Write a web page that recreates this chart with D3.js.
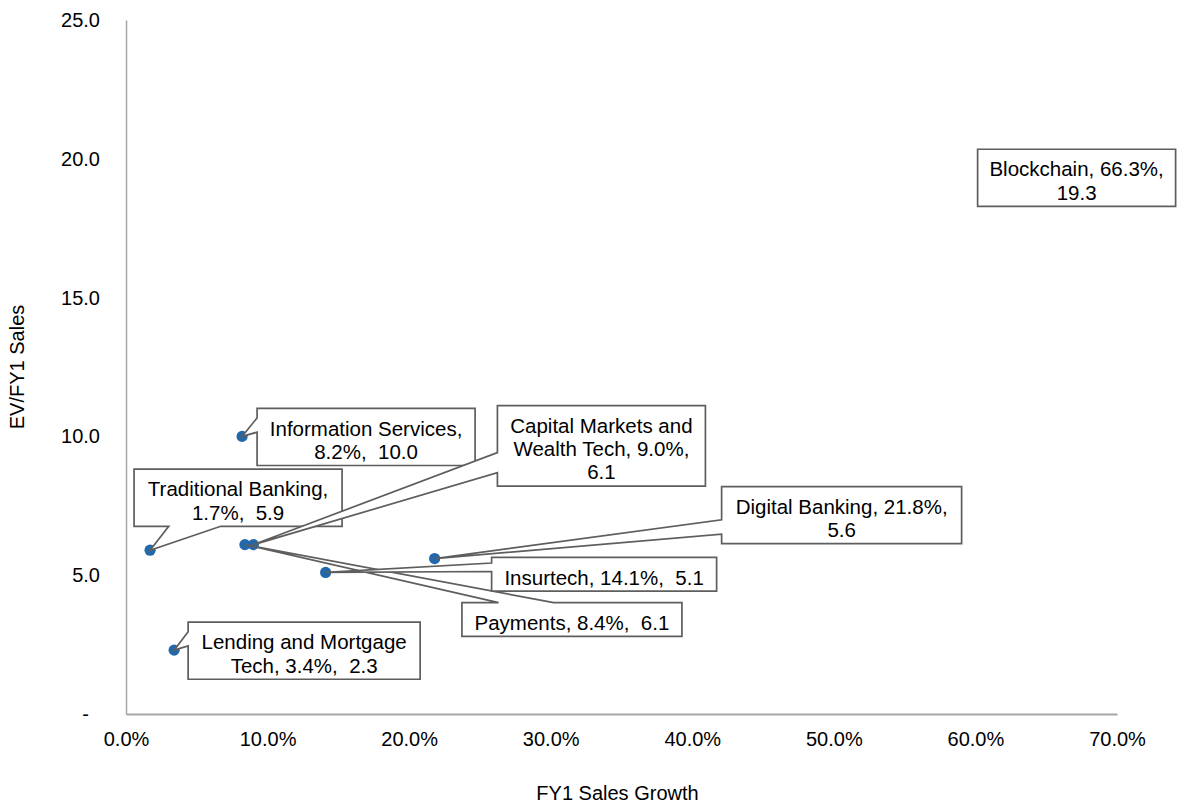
<!DOCTYPE html>
<html>
<head>
<meta charset="utf-8">
<title>EV/FY1 Sales vs FY1 Sales Growth</title>
<script src="https://cdn.jsdelivr.net/npm/d3@7/dist/d3.min.js"></script>
<style>
  html, body { margin: 0; padding: 0; background: #fff; }
  svg { display: block; font-family: "Liberation Sans", Arial, sans-serif; }
  .lbl text { white-space: pre; }
</style>
</head>
<body>
<svg id="chart" width="1180" height="806"></svg>
<script>
// Segment data: FY1 sales growth (%) and EV / FY1 sales multiple
const categories = [
  "Traditional Banking",
  "Information Services",
  "Capital Markets and Wealth Tech",
  "Payments",
  "Insurtech",
  "Digital Banking",
  "Lending and Mortgage Tech",
  "Blockchain"
];
const salesGrowth = [1.7, 8.2, 9.0, 8.4, 14.1, 21.8, 3.4, 66.3];
const evSales     = [5.9, 10.0, 6.1, 6.1, 5.1, 5.6, 2.3, 19.3];

const xTickValues = [0, 10, 20, 30, 40, 50, 60, 70];
const xTickLabels = ["0.0%", "10.0%", "20.0%", "30.0%", "40.0%", "50.0%", "60.0%", "70.0%"];
const yTickValues = [0, 5, 10, 15, 20, 25];
const yTickLabels = ["-", "5.0", "10.0", "15.0", "20.0", "25.0"];

// Callout placement: box corner offset from its point, and box width (px)
const labelOffsets = [
  { dx: -16, dy: -81, w: 208 },
  { dx: 15,  dy: -28, w: 218 },
  { dx: 244, dy: -139, w: 208 },
  { dx: 217, dy: 58,  w: 220 },
  { dx: 166, dy: -15, w: 225 },
  { dx: 287, dy: -72, w: 240 },
  { dx: 14,  dy: -28, w: 232 },
  { dx: -87, dy: -29, w: 198 }
];

const svg = d3.select("#chart");
const x = d3.scaleLinear().domain([0, 70]).range([126, 1117]);
const y = d3.scaleLinear().domain([0, 25]).range([714, 20]);

const axisColor = "#A6A6A6";
const ink = "#000";

// X axis
const gx = svg.append("g")
  .attr("transform", `translate(0,${y(0)})`)
  .call(d3.axisBottom(x)
    .tickValues(xTickValues)
    .tickFormat((d, i) => xTickLabels[i])
    .tickSize(0).tickSizeOuter(0).tickPadding(18));
gx.select(".domain").attr("stroke", axisColor).attr("stroke-width", 1.8);
gx.selectAll("text").attr("font-size", 20).attr("fill", ink)
  .attr("font-family", "Liberation Sans, Arial, sans-serif");

// Y axis
const gy = svg.append("g")
  .attr("transform", `translate(${x(0)},0)`)
  .call(d3.axisLeft(y)
    .tickValues(yTickValues)
    .tickFormat((d, i) => yTickLabels[i])
    .tickSize(0).tickSizeOuter(0).tickPadding(26));
gy.select(".domain").attr("stroke", axisColor).attr("stroke-width", 1.5);
gy.selectAll("text").attr("font-size", 20).attr("fill", ink)
  .attr("font-family", "Liberation Sans, Arial, sans-serif")
  .attr("dx", d => d === 0 ? "-0.55em" : null);

// Axis titles
svg.append("text")
  .attr("x", (x.range()[0] + x.range()[1]) / 2 - 4)
  .attr("y", 800)
  .attr("text-anchor", "middle")
  .attr("font-size", 20).attr("fill", ink)
  .text("FY1 Sales Growth");
svg.append("text")
  .attr("transform", `translate(24,${(y.range()[0] + y.range()[1]) / 2}) rotate(-90)`)
  .attr("text-anchor", "middle")
  .attr("font-size", 20).attr("fill", ink)
  .text("EV/FY1 Sales");

// Points
const pts = categories.map((c, i) => ({
  name: c, gx: salesGrowth[i], ev: evSales[i],
  px: x(salesGrowth[i]), py: y(evSales[i]), off: labelOffsets[i]
}));

svg.append("g").selectAll("circle")
  .data(pts).join("circle")
  .attr("cx", d => d.px).attr("cy", d => d.py)
  .attr("r", 5.6).attr("fill", "#2368AA");

// Data-label callouts
const fs = 20.5, lh = 23.3, padH = 10.5;
const measurer = svg.append("text").attr("font-size", fs)
  .style("white-space", "pre").attr("visibility", "hidden");
const textWidth = s => { measurer.text(s); return measurer.node().getComputedTextLength(); };

function labelTokens(d) {
  const words = d.name.split(" ");
  words[words.length - 1] += ",";
  const toks = words.map((w, j) => ({ t: w, sep: j ? " " : "" }));
  toks.push({ t: d.gx.toFixed(1) + "%,", sep: " " });
  toks.push({ t: d.ev.toFixed(1), sep: "  " });
  return toks;
}

function wrap(toks, maxW) {
  const lines = [];
  let line = toks[0].t;
  for (let k = 1; k < toks.length; k++) {
    const cand = line + toks[k].sep + toks[k].t;
    if (textWidth(cand) <= maxW) line = cand;
    else { lines.push(line); line = toks[k].t; }
  }
  lines.push(line);
  return lines;
}

// Rectangular callout with a wedge pointing at (ax, ay)
function calloutPath(l, t, w, h, ax, ay) {
  const r = l + w, b = t + h, hc = l + w / 2, vc = t + h / 2;
  if (ax >= l && ax <= r && ay >= t && ay <= b) {
    return `M${l},${t}H${r}V${b}H${l}Z`;
  }
  const dx = (ax - hc) * h / w, dy = ay - vc;
  const xg1 = ax > hc ? 7 : 2, xg2 = ax > hc ? 10 : 5;
  const yg1 = ay > vc ? 7 : 2, yg2 = ay > vc ? 10 : 5;
  const x1 = l + w * xg1 / 12, x2 = l + w * xg2 / 12;
  const y1 = t + h * yg1 / 12, y2 = t + h * yg2 / 12;
  if (Math.abs(dx) > Math.abs(dy)) {
    if (dx < 0) return `M${l},${t}H${r}V${b}H${l}V${y2}L${ax},${ay}L${l},${y1}Z`;
    return `M${l},${t}H${r}V${y1}L${ax},${ay}L${r},${y2}V${b}H${l}Z`;
  }
  if (dy < 0) return `M${l},${t}H${x1}L${ax},${ay}L${x2},${t}H${r}V${b}H${l}Z`;
  return `M${l},${t}H${r}V${b}H${x2}L${ax},${ay}L${x1},${b}H${l}Z`;
}

const lg = svg.append("g").attr("class", "lbl");
pts.forEach(d => {
  const lines = wrap(labelTokens(d), d.off.w - 8);
  const l = d.px + d.off.dx, t = d.py + d.off.dy;
  const w = d.off.w, h = lines.length * lh + padH;
  const g = lg.append("g");
  g.append("path")
    .attr("d", calloutPath(l, t, w, h, d.px, d.py))
    .attr("fill", "#fff").attr("stroke", "#5E5E5E")
    .attr("stroke-width", 1.7).attr("stroke-linejoin", "miter");
  const cy = t + h / 2;
  lines.forEach((s, k) => {
    g.append("text")
      .attr("x", l + w / 2)
      .attr("y", cy + (k - (lines.length - 1) / 2) * lh + fs * 0.5)
      .attr("text-anchor", "middle")
      .attr("font-size", fs).attr("fill", ink)
      .style("white-space", "pre")
      .text(s);
  });
});
measurer.remove();
</script>
</body>
</html>
